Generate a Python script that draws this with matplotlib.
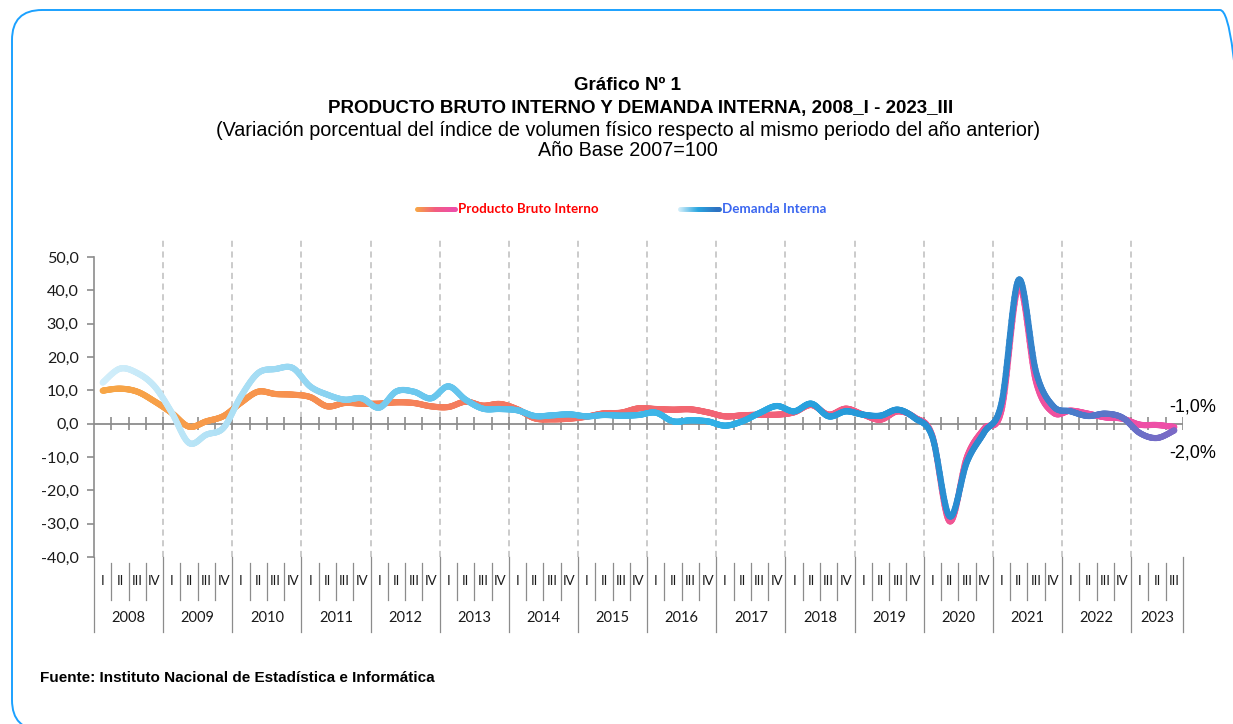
import numpy as np
import matplotlib
matplotlib.use("Agg")
import matplotlib.pyplot as plt
from matplotlib.collections import LineCollection
from matplotlib.colors import LinearSegmentedColormap
from matplotlib.patches import FancyBboxPatch
from matplotlib.transforms import IdentityTransform

YEARS = list(range(2008, 2024))
QUARTERS = ["I", "II", "III", "IV"] * 15 + ["I", "II", "III"]

# Producto Bruto Interno, var. % interanual
PBI = [
    9.9, 10.5, 9.6, 6.7,
    3.2, -0.9, 0.7, 2.3,
    6.3, 9.6, 8.9, 8.7,
    8.0, 5.2, 6.2, 6.0,
    6.0, 6.4, 6.2, 5.2,
    5.0, 6.6, 5.4, 5.9,
    4.3, 1.6, 1.3, 1.5,
    2.1, 3.1, 3.3, 4.6,
    4.4, 4.2, 4.3, 3.4,
    2.2, 2.5, 2.7, 2.7,
    3.4, 5.6, 2.7, 4.5,
    2.7, 1.2, 3.7, 1.8,
    -3.7, -29.3, -10.0, -1.5,
    4.0, 41.2, 12.5, 3.3,
    3.9, 3.0, 1.9, 1.5,
    -0.3, -0.4, -1.0,
]

# Demanda Interna, var. % interanual
DEMANDA = [
    12.3, 16.5, 15.2, 11.2,
    3.3, -5.8, -3.3, -1.2,
    8.2, 15.2, 16.4, 16.7,
    11.2, 8.7, 7.2, 7.6,
    4.8, 9.7, 9.6, 7.6,
    11.2, 7.2, 4.5, 4.4,
    4.0, 2.3, 2.5, 2.8,
    2.2, 2.6, 2.4, 2.6,
    3.3, 0.7, 1.0, 0.7,
    -0.6, 0.7, 3.2, 5.3,
    3.7, 6.0, 2.2, 3.7,
    2.7, 2.4, 4.2, 1.6,
    -4.0, -27.8, -11.5, -2.6,
    6.2, 43.2, 15.5, 5.2,
    3.7, 2.3, 3.0, 1.8,
    -2.8, -4.3, -2.0,
]

PBI_STOPS = ["#F7A646", "#F7924E", "#F47C5E", "#F26A6C", "#F25E7E", "#F0529A", "#EE4FA8"]
DI_STOPS = ["#D2EEFA", "#A6DDF4", "#6DC8EE", "#52BDEA", "#2FB0E6", "#2598D8", "#2E86CC", "#7A6AC6"]

W, H = 1233, 724
TITLE_FONT = ["Liberation Sans", "DejaVu Sans"]
AXIS_FONT = ["Lato", "DejaVu Sans"]


def smooth(x, y, m=24):
    # curva suavizada tipo Excel (Catmull-Rom como Bezier)
    P = np.column_stack([x, y]).astype(float)
    n = len(P)
    out = []
    for i in range(n - 1):
        p0 = P[i - 1] if i > 0 else P[i]
        p3 = P[i + 2] if i + 2 < n else P[i + 1]
        c1 = P[i] + (P[i + 1] - p0) / 6
        c2 = P[i + 1] - (p3 - P[i]) / 6
        t = np.linspace(0, 1, m, endpoint=(i == n - 2))[:, None]
        b = ((1 - t) ** 3) * P[i] + 3 * ((1 - t) ** 2) * t * c1 \
            + 3 * (1 - t) * t ** 2 * c2 + t ** 3 * P[i + 1]
        out.append(b)
    out = np.vstack(out)
    return out[:, 0], out[:, 1]


def gradient_line(target, xs, ys, stops, lw, transform=None, zorder=3):
    pts = np.column_stack([xs, ys]).reshape(-1, 1, 2)
    segs = np.concatenate([pts[:-1], pts[1:]], axis=1)
    cmap = LinearSegmentedColormap.from_list("g", stops)
    cols = cmap(np.linspace(0, 1, len(segs)))
    kw = {}
    if transform is not None:
        kw["transform"] = transform
    lc = LineCollection(segs, colors=cols, linewidths=lw, capstyle="round",
                        joinstyle="round", zorder=zorder, **kw)
    target.add_artist(lc) if transform is not None else target.add_collection(lc)
    return lc


def fx(px):
    return px / W


def fy(py):
    return 1 - py / H


fig = plt.figure(figsize=(W / 100, H / 100), dpi=100)
fig.patch.set_facecolor("white")

# marco redondeado
frame = FancyBboxPatch((12, -6), 1238, 720, boxstyle="round,pad=0,rounding_size=30",
                       transform=IdentityTransform(), facecolor="none",
                       edgecolor="#1BA1FF", linewidth=1.4)
fig.add_artist(frame)

# titulos
fig.text(fx(627), fy(86), "Gráfico Nº 1", ha="center", va="center",
         fontsize=13.5, fontweight="bold", family=TITLE_FONT)
fig.text(fx(641), fy(108), "PRODUCTO BRUTO INTERNO Y DEMANDA INTERNA, 2008_I - 2023_III",
         ha="center", va="center", fontsize=13.5, fontweight="bold", family=TITLE_FONT)
fig.text(fx(628), fy(130), "(Variación porcentual del índice de volumen físico respecto al mismo periodo del año anterior)",
         ha="center", va="center", fontsize=14.2, family=TITLE_FONT)
fig.text(fx(628), fy(151), "Año Base 2007=100", ha="center", va="center",
         fontsize=14.2, family=TITLE_FONT)

# leyenda
lx = np.linspace(fx(417), fx(455), 40)
gradient_line(fig, lx, np.full_like(lx, fy(209)), ["#F7A646", "#F25E7E", "#EE4FA8"], 3.6,
              transform=fig.transFigure)
fig.text(fx(458), fy(209), "Producto Bruto Interno", ha="left", va="center",
         fontsize=9.6, fontweight="bold", color="#FF0000", family=AXIS_FONT)
lx = np.linspace(fx(680), fx(719), 40)
gradient_line(fig, lx, np.full_like(lx, fy(209)), ["#D2EEFA", "#2AA6E0", "#2E72C2"], 3.6,
              transform=fig.transFigure)
fig.text(fx(722), fy(209), "Demanda Interna", ha="left", va="center",
         fontsize=9.6, fontweight="bold", color="#3A66F0", family=AXIS_FONT)

ax = fig.add_axes([fx(94), 1 - 557 / H, (1183 - 94) / W, 300 / H])
n = len(QUARTERS)
x = np.arange(n)
ax.set_xlim(-0.5, n - 0.5)
ax.set_ylim(-40, 50)

for s in ["top", "right", "bottom"]:
    ax.spines[s].set_visible(False)
ax.spines["left"].set_color("#8C8C8C")
ax.spines["left"].set_linewidth(1.2)
ax.set_yticks(range(-40, 51, 10))
ax.set_yticklabels([f"{v:.1f}".replace(".", ",") for v in range(-40, 51, 10)],
                   fontsize=11.6, family=AXIS_FONT, color="#1A1A1A")
ax.tick_params(axis="y", direction="out", length=5, width=1.2, color="#8C8C8C", pad=6)
ax.set_xticks([])

# lineas punteadas de separacion anual
for k in range(1, len(YEARS)):
    ax.axvline(4 * k - 0.5, ymin=0, ymax=1.067, color="#BDBDBD", linewidth=1.1,
               linestyle=(0, (4, 3)), clip_on=False, zorder=1)

# eje de categorias en 0
ax.axhline(0, color="#8C8C8C", linewidth=1.3, zorder=2)
ax.vlines(np.arange(n) + 0.5, -1.9, 1.9, color="#8C8C8C", linewidth=1.2, zorder=2)

# series
xs, ys = smooth(x, PBI)
gradient_line(ax, xs, ys, PBI_STOPS, 4.4, zorder=3)
xs, ys = smooth(x, DEMANDA)
gradient_line(ax, xs, ys, DI_STOPS, 4.4, zorder=4)

# etiquetas finales
ax.annotate(f"{PBI[-1]:.1f}%".replace(".", ","), xy=(n - 1, PBI[-1]),
            xytext=(18, 20), textcoords="offset pixels", ha="center", va="center",
            fontsize=13, family=TITLE_FONT, annotation_clip=False)
ax.annotate(f"{DEMANDA[-1]:.1f}%".replace(".", ","), xy=(n - 1, DEMANDA[-1]),
            xytext=(18, -23), textcoords="offset pixels", ha="center", va="center",
            fontsize=13, family=TITLE_FONT, annotation_clip=False)

# etiquetas de trimestres y años
tr = ax.get_xaxis_transform()


def ay(py):
    return (557 - py) / 300


for i, q in enumerate(QUARTERS):
    ax.text(i, ay(581), q, transform=tr, ha="center", va="center", fontsize=9.5,
            family=AXIS_FONT, color="#1A1A1A", clip_on=False)
for i in range(1, n):
    if i % 4 == 0:
        continue
    ax.plot([i - 0.5, i - 0.5], [ay(563), ay(600)], transform=tr, color="#8C8C8C",
            linewidth=0.9, clip_on=False)
for k in range(len(YEARS) + 1):
    xb = min(4 * k, n) - 0.5
    ax.plot([xb, xb], [ay(557), ay(632)], transform=tr, color="#8C8C8C",
            linewidth=0.9, clip_on=False)
for k, yr in enumerate(YEARS):
    start = 4 * k
    end = min(4 * k + 4, n)
    ax.text((start + end - 1) / 2, ay(618), str(yr), transform=tr, ha="center",
            va="center", fontsize=10.5, family=AXIS_FONT, color="#1A1A1A", clip_on=False)

fig.text(fx(40), fy(678), "Fuente: Instituto Nacional de Estadística e Informática",
         ha="left", va="center", fontsize=11, fontweight="bold", family=TITLE_FONT)

fig.savefig("out.png", dpi=100, facecolor="white")
